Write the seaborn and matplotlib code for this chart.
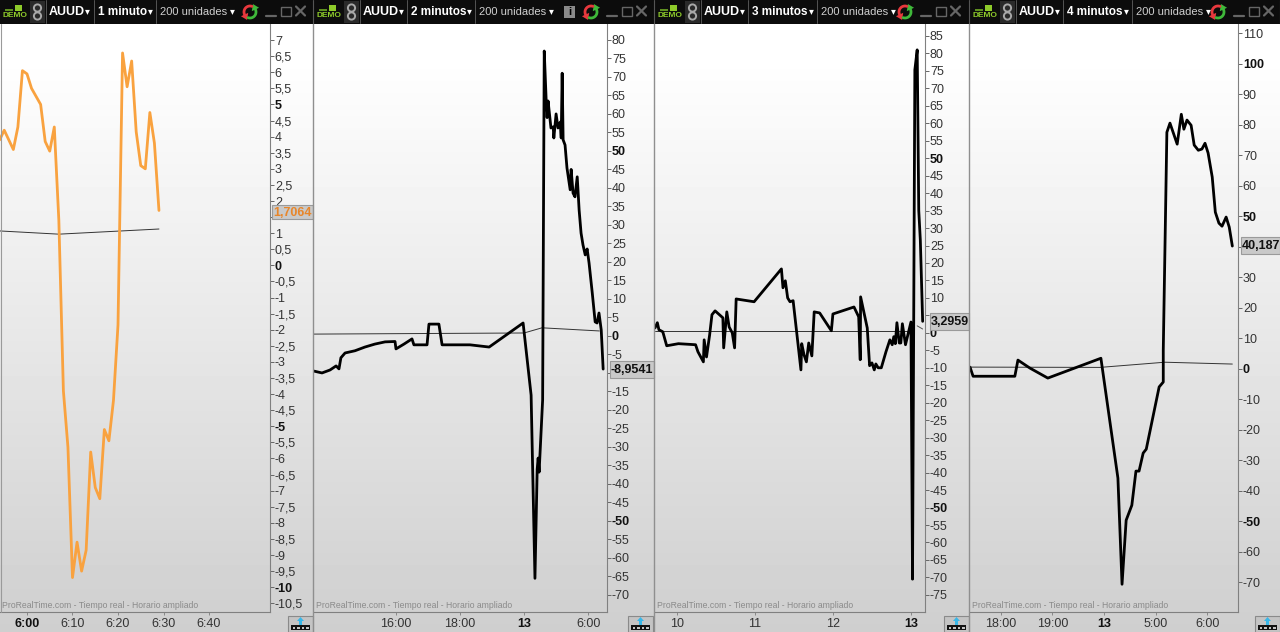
import numpy as np
import matplotlib
matplotlib.use('Agg')
import matplotlib.pyplot as plt
from matplotlib.patches import Rectangle, Circle, Polygon
import seaborn as sns

# panel 1, 1 minute, x = minutes after 6:00
x1 = [-6, -5, -3, -2, -1, 0, 1, 3, 4, 5, 6, 7, 8, 9, 10, 11, 12, 13, 14, 15, 16, 17, 18, 19, 20, 21, 22, 23, 24, 25, 26, 27, 28, 29]
y1 = [3.9, 4.2, 3.6, 4.3, 6.05, 5.95, 5.5, 5.0, 3.85, 3.55, 4.3, 1.4, -3.9, -5.65, -9.7, -8.6, -9.5, -8.85, -5.8, -6.9, -7.25, -5.1, -5.45, -4.2, -1.85, 6.6, 5.55, 6.35, 4.15, 3.1, 3.0, 4.75, 3.8, 1.7064]
thin_x1 = [-6, 7, 29]
thin_y1 = [1.07, 0.97, 1.13]

# panel 2, 2 minutes, x = compressed session hours
x2 = [13.44, 13.69, 13.94, 14.13, 14.22, 14.28, 14.41, 14.72, 15.03, 15.34, 15.66, 15.97, 16, 16.25, 16.5, 16.56, 16.97, 17.03, 17.34, 17.44, 18.31, 18.91, 19.97,
      20.22, 20.34, 20.41, 20.44, 20.47, 20.58, 20.63, 20.69, 20.72, 20.75, 20.84, 20.91, 20.93, 21, 21.06, 21.13, 21.16, 21.19, 21.22, 21.28, 21.34, 21.44, 21.47,
      21.53, 21.59, 21.66, 21.72, 21.78, 21.84, 21.91, 21.97, 22.03, 22.13, 22.22, 22.28, 22.34, 22.41, 22.47]
y2 = [-9.5, -10, -9.2, -8.1, -8.9, -5.9, -4.6, -4, -3, -2.2, -1.6, -1.5, -3.5, -2.2, -0.8, -2.4, -2.4, 3.2, 3.2, -2.4, -2.4, -3, 3.5,
      -16, -65.5, -36, -33, -36.8, -17.3, 77, 63.8, 59, 63.5, 56.2, 56.5, 53.5, 60, 56.2, 57.8, 53.5, 71, 53, 51.6, 45.4, 39.5, 45,
      38.6, 37.6, 43, 34, 27.8, 24.6, 21.9, 23.5, 19.7, 11.6, 3.8, 3.5, 6.2, 1.6, -8.9541]
thin_x2 = [13.44, 20.0, 20.56, 22.35]
thin_y2 = [0.5, 0.8, 2.2, 1.35]

# panel 3, 3 minutes, x = days
x3 = [9.72, 9.75, 9.77, 9.82, 9.87, 10.02, 10.24, 10.27, 10.34, 10.35, 10.38, 10.42, 10.45, 10.49, 10.59, 10.6, 10.64, 10.67, 10.71, 10.74, 10.76, 10.99, 11.34, 11.36,
      11.39, 11.42, 11.45, 11.49, 11.59, 11.6, 11.63, 11.66, 11.69, 11.73, 11.76, 11.83, 11.98, 12, 12.27, 12.33, 12.35, 12.355, 12.44, 12.47, 12.5, 12.53, 12.55, 12.58,
      12.62, 12.68, 12.73, 12.76, 12.78, 12.8, 12.82, 12.85, 12.87, 12.89, 12.93, 13.0, 13.02, 13.05, 13.08, 13.1, 13.12, 13.15]
y3 = [1.4, 2.9, 0.9, 0.3, -3.7, -3.1, -3.4, -5.4, -8.3, -2, -6.9, -0.6, 5.2, 6.3, 4.3, -4.3, 6, 1.7, 0, -4.3, 9.7, 8.9, 18.3, 12.9,
      14.9, 10, 8.9, 9.2, -10.6, -3.1, -6.3, -8.3, -2.9, -6.6, 6, 5.7, 0.6, 5.4, 7.4, 4.6, -7.7, 10.3, 1.4, -9.4, -8.6, -10.6, -8.9, -10,
      -10, -5.4, -2, -3.4, -1.1, -3.1, 2.9, -2.9, -2.9, 2.6, -3.4, 3.1, -70.5, 75.3, 81, 35, 26.6, 3.2959]
thin_x3 = [9.72, 13.0]
thin_y3 = [0.5, 0.5]
stub_x3 = [13.08, 13.15]
stub_y3 = [2, 1.1]

# panel 4, 4 minutes, x = compressed session hours
x4 = [17.4, 17.46, 18.27, 18.33, 18.56, 18.91, 19.94, 20.27, 20.35, 20.43, 20.54, 20.62, 20.68, 20.76, 20.82, 21.07, 21.15, 21.15, 21.22, 21.28, 21.42, 21.5, 21.55,
      21.61, 21.69, 21.75, 21.83, 21.9, 21.96, 22.02, 22.1, 22.16, 22.23, 22.29, 22.37, 22.43, 22.49]
y4 = [0.5, -2.5, -2.5, 2.8, 0.2, -3.1, 3.4, -35.9, -70.7, -49.7, -44.8, -33.6, -33.6, -27.7, -26.4, -6, -4.4, 6, 77.5, 80.5, 73.6, 83.4, 78.5,
      81.5, 79.8, 73.3, 71.6, 72, 73.9, 70.7, 62.8, 51.3, 47.7, 46.7, 49.7, 46.4, 40.187]
thin_x4 = [17.4, 19.92, 21.18, 22.49]
thin_y4 = [0.5, 0.4, 2.1, 1.5]

y_ticks1 = [7, 6.5, 6, 5.5, 5, 4.5, 4, 3.5, 3, 2.5, 2, 1.5, 1, 0.5, 0, -0.5, -1, -1.5, -2, -2.5, -3, -3.5, -4, -4.5, -5, -5.5, -6, -6.5, -7, -7.5, -8, -8.5, -9, -9.5, -10, -10.5]
y_ticks2 = list(range(-70, 85, 5))
y_ticks3 = list(range(-75, 90, 5))
y_ticks4 = list(range(-70, 120, 10))

x_ticks1, x_labels1 = [0, 10, 20, 30, 40], ['6:00', '6:10', '6:20', '6:30', '6:40']
x_ticks2, x_labels2 = [16, 18, 20, 22], ['16:00', '18:00', '13', '6:00']
x_ticks3, x_labels3 = [10, 11, 12, 13], ['10', '11', '12', '13']
x_ticks4, x_labels4 = [18, 19, 20, 21, 22], ['18:00', '19:00', '13', '5:00', '6:00']

sns.set_theme(style='white')
plt.rcParams['font.family'] = ['Liberation Sans', 'DejaVu Sans']

W, H = 1280, 632
fig = plt.figure(figsize=(12.8, 6.32), dpi=100)

# window gradient behind everything
bg = fig.add_axes([0, 0, 1, 1], zorder=0)
grad = np.clip((np.linspace(0, 1, 632) - 0.09) / 0.91, 0, 1)
bg.imshow((1 - 0.19 * grad)[:, None], cmap='gray', vmin=0, vmax=1, aspect='auto', extent=[0, W, H, 0])
bg.axis('off')


def draw_panel(left, right, top_val, bottom_val, xlim, xs, ys, thin_x, thin_y, color, yticks, bold_y, hidden_y, xticks, xlabels, bold_x):
    ax = fig.add_axes([left / W, (H - 612) / H, (right - left) / W, (612 - 24) / H], zorder=1)
    ax.patch.set_alpha(0)
    sns.lineplot(x=thin_x, y=thin_y, ax=ax, color='#333333', lw=0.7, sort=False, estimator=None, legend=False)
    sns.lineplot(x=xs, y=ys, ax=ax, color=color, lw=2.0, sort=False, estimator=None, legend=False)
    ax.set_xlim(xlim)
    ax.set_ylim(bottom_val, top_val)
    ax.set_xlabel('')
    ax.set_ylabel('')
    for s in ['top', 'left']:
        ax.spines[s].set_visible(False)
    for s in ['right', 'bottom']:
        ax.spines[s].set_color('#808080')
        ax.spines[s].set_linewidth(0.8)
    ax.yaxis.tick_right()
    ax.set_yticks(yticks)
    # labels that sit under the current value box stay blank
    ax.set_yticklabels(['' if v in hidden_y else ('%g' % v).replace('.', ',') for v in yticks])
    ax.set_xticks(xticks)
    ax.set_xticklabels(xlabels)
    ax.tick_params(axis='y', which='major', right=True, length=3, width=0.7, color='#666666', pad=0.5, labelsize=9, labelcolor='#333333')
    ax.tick_params(axis='x', which='major', bottom=True, length=2, width=0.7, color='#888888', pad=2, labelsize=9, labelcolor='#333333')
    for lab, v in zip(ax.get_yticklabels(), yticks):
        if v in bold_y:
            lab.set_fontweight('bold')
            lab.set_color('#111111')
    for lab in ax.get_xticklabels():
        if lab.get_text() in bold_x:
            lab.set_fontweight('bold')
            lab.set_color('#111111')
    ax.text(2 / (right - left), 0.0035, 'ProRealTime.com - Tiempo real - Horario ampliado', transform=ax.transAxes,
            fontsize=6.2, color='#8a8a8a', va='bottom', ha='left')
    return ax


draw_panel(0, 270, 7.5, -10.77, (-5.93, 53.4), x1, y1, thin_x1, thin_y1, '#f9a23f', y_ticks1, [5, 0, -5, -10], [1.5],
           x_ticks1, x_labels1, ['6:00'])
draw_panel(314, 607, 84.3, -74.6, (13.44, 22.59), x2, y2, thin_x2, thin_y2, 'black', y_ticks2, [50, 0, -50], [-10],
           x_ticks2, x_labels2, ['13'])
ax3 = draw_panel(655, 925, 88.4, -79.9, (9.72, 13.18), x3, y3, thin_x3, thin_y3, 'black', y_ticks3, [50, 0, -50], [5],
                 x_ticks3, x_labels3, ['13'])
sns.lineplot(x=stub_x3, y=stub_y3, ax=ax3, color='#555555', lw=0.7, sort=False, estimator=None, legend=False)
draw_panel(970, 1238, 113, -79.8, (17.4, 22.6), x4, y4, thin_x4, thin_y4, 'black', y_ticks4, [100, 50, 0, -50], [40],
           x_ticks4, x_labels4, ['13'])

# window chrome on top, in pixel coordinates
top = fig.add_axes([0, 0, 1, 1], zorder=5)
top.set_xlim(0, W)
top.set_ylim(H, 0)
top.axis('off')
top.patch.set_alpha(0)
top.add_patch(Rectangle((0, 0), W, 24, fc='#0c0c0c', ec='none'))


def refresh_icon(cx, cy):
    # two half circle arrows, red on the left and green on the right
    for start, end, col in [(70, 250, '#e8383d'), (250, 430, '#3fb83a')]:
        t = np.radians(np.linspace(start, end - 45, 20))
        top.plot(cx + 6 * np.cos(t), cy - 6 * np.sin(t), color=col, lw=2)
        a = np.radians(end - 45)
        px, py = cx + 6 * np.cos(a), cy - 6 * np.sin(a)
        dx, dy = -np.sin(a), -np.cos(a)
        nx, ny = -dy, dx
        top.add_patch(Polygon([[px + 6 * dx, py + 6 * dy], [px + 4 * nx, py + 4 * ny], [px - 4 * nx, py - 4 * ny]], fc=col, ec='none'))


def header(x0, tf, label_x, units_x, arrows_x, min_x, right_x, has_info=False):
    # demo badge
    top.add_patch(Rectangle((x0 + 15, 5), 7, 6, fc='#8ecb2a', ec='none'))
    top.add_patch(Rectangle((x0 + 5, 9), 8, 2, fc='#5f8f20', ec='none'))
    top.text(x0 + 15, 15.5, 'DEMO', color='#8ecb2a', fontsize=6, fontweight='bold', ha='center', va='center')
    # link icon
    top.add_patch(Rectangle((x0 + 30, 1), 15, 22, fc='#2a2a2a', ec='none'))
    top.add_patch(Circle((x0 + 37.5, 8), 3.6, fc='none', ec='#a8a8a8', lw=1.4))
    top.add_patch(Circle((x0 + 37.5, 16), 3.6, fc='none', ec='#a8a8a8', lw=1.4))
    for sep in [x0 + 46, x0 + label_x - 4, x0 + units_x - 4]:
        top.plot([sep, sep], [0, 23], color='#555555', lw=0.7)
    top.text(x0 + 49, 12, 'AUUD', color='white', fontsize=9, fontweight='bold', va='center')
    top.text(x0 + 85, 11, '▾', color='white', fontsize=7, va='center', ha='left')
    top.text(x0 + label_x, 12, tf, color='white', fontsize=8.5, fontweight='bold', va='center')
    top.text(x0 + units_x - 12, 11, '▾', color='white', fontsize=7, va='center', ha='left')
    top.text(x0 + units_x, 12, '200 unidades', color='#cfcfcf', fontsize=8, va='center')
    top.text(x0 + units_x + 70, 11, '▾', color='white', fontsize=7, va='center', ha='left')
    if has_info:
        top.add_patch(Rectangle((x0 + 250, 6), 11, 12, fc='#8a8a8a', ec='none'))
        top.text(x0 + 255.5, 12, 'i', color='black', fontsize=8, fontweight='bold', ha='center', va='center')
    refresh_icon(x0 + arrows_x + 9, 12)
    # window buttons
    top.plot([x0 + min_x, x0 + min_x + 10], [16, 16], color='#666666', lw=1.6)
    top.add_patch(Rectangle((x0 + min_x + 15, 6.5), 10, 9, fc='none', ec='#666666', lw=1))
    top.plot([x0 + min_x + 30, x0 + min_x + 39], [6.5, 15.5], color='#666666', lw=1.6)
    top.plot([x0 + min_x + 30, x0 + min_x + 39], [15.5, 6.5], color='#666666', lw=1.6)
    top.plot([x0 + right_x, x0 + right_x], [0, 24], color='#555555', lw=0.8)


header(0, '1 minuto', 98, 160, 241, 266, 313)
header(314, '2 minutos', 97, 165, 268, 293, 340, has_info=True)
header(655, '3 minutos', 97, 166, 241, 266, 314)
header(970, '4 minutos', 97, 166, 239, 264, 310)

# panel borders
for px in [313, 654, 969]:
    top.plot([px, px], [24, H], color='#8f8f8f', lw=1)
top.plot([0.5, 0.5], [24, 612], color='#9a9a9a', lw=0.8)

# current value boxes
boxes = [(272, 205, 41, 14, '1,7064', '#e8862a'), (610, 361, 44, 17, '-8,9541', '#111111'),
         (930, 313, 39, 17, '3,2959', '#111111'), (1241, 237, 39, 17, '40,187', '#111111')]
for bx, by, bw, bh, txt, col in boxes:
    top.add_patch(Rectangle((bx, by), bw, bh, fc='#c9c9c9', ec='#9a9a9a', lw=0.8))
    top.text(bx + bw / 2, by + bh / 2 + 0.5, txt, color=col, fontsize=9, fontweight='bold', ha='center', va='center')

# little scale buttons, bottom right of each panel
for bx in [288, 628, 944, 1255]:
    top.add_patch(Rectangle((bx, 616), 25, 16, fc='#c4c4c4', ec='#8a8a8a', lw=0.8))
    top.add_patch(Polygon([[bx + 12.5, 617], [bx + 9, 621], [bx + 16, 621]], fc='#39b7e8', ec='none'))
    top.add_patch(Rectangle((bx + 11, 620), 3, 4.5, fc='#39b7e8', ec='none'))
    top.add_patch(Rectangle((bx + 3, 625), 19, 5, fc='#111111', ec='none'))
    for k in range(4):
        top.add_patch(Rectangle((bx + 4.5 + k * 4.5, 626.5), 2.5, 2, fc='#c4c4c4', ec='none'))

fig.savefig('out.png', dpi=100)
